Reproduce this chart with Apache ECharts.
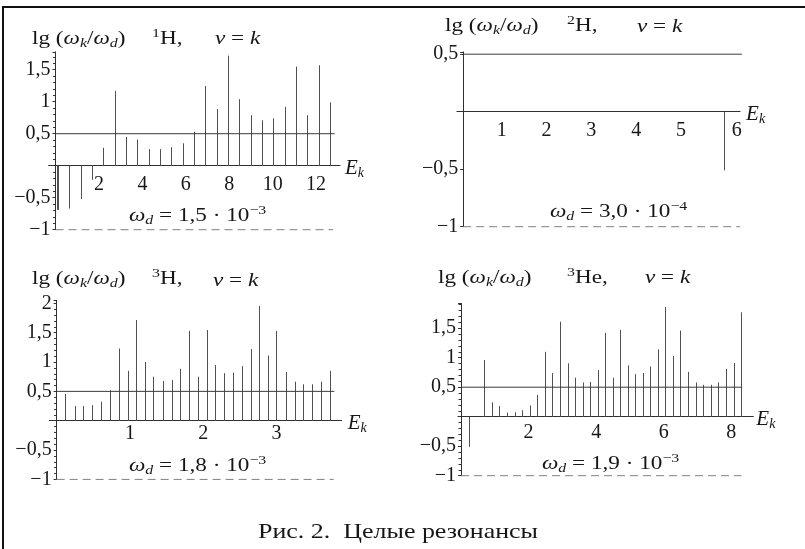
<!DOCTYPE html>
<html><head><meta charset="utf-8">
<script src="https://cdn.jsdelivr.net/npm/echarts@6/dist/echarts.min.js"></script>
<style>html,body{margin:0;padding:0;background:#fff}#c{width:805px;height:549px}</style>
</head><body><div id="c"></div>
<script>
// ---------------- data ----------------
// 1H, nu = k
const h1E = [0.05,0.1,0.63,1.16,1.68,2.2,2.72,3.24,3.75,4.29,4.81,5.33,5.86,6.38,6.9,7.42,7.94,8.47,8.99,9.5,10.02,10.56,11.08,11.6,12.12,12.65];
const h1V = [-0.69,-0.69,-0.67,-0.52,-0.22,0.28,1.17,0.45,0.41,0.26,0.26,0.29,0.35,0.53,1.245,0.885,1.72,1.04,0.79,0.71,0.74,0.92,1.55,0.79,1.57,0.99];
// 2H, nu = k
const h2E = [5.97];
const h2V = [-0.51];
// 3H, nu = k
const h3E = [0.12,0.25,0.36,0.48,0.6,0.73,0.85,0.97,1.08,1.2,1.32,1.45,1.57,1.69,1.81,1.93,2.05,2.16,2.29,2.41,2.53,2.65,2.76,2.89,3.0,3.13,3.25,3.36,3.49,3.61,3.73];
const h3V = [0.455,0.25,0.25,0.265,0.325,0.52,1.23,0.85,1.715,1.0,0.75,0.675,0.69,0.885,1.53,0.75,1.545,0.95,0.81,0.82,0.93,1.22,1.955,1.11,1.53,0.83,0.665,0.62,0.62,0.665,0.85];
// 3He, nu = k
const he3E = [0.24,0.69,0.93,1.13,1.37,1.59,1.80,2.03,2.25,2.49,2.70,2.93,3.16,3.37,3.60,3.82,4.04,4.27,4.49,4.71,4.93,5.16,5.38,5.60,5.83,6.04,6.27,6.49,6.72,6.94,7.16,7.39,7.61,7.84,8.07,8.28];
const he3V = [-0.51,0.96,0.244,0.18,0.07,0.075,0.11,0.19,0.37,1.10,0.74,1.61,0.905,0.66,0.58,0.59,0.79,1.42,0.66,1.47,0.87,0.72,0.74,0.85,1.14,1.86,1.03,1.46,0.76,0.58,0.54,0.54,0.58,0.81,0.91,1.77];

// tick labels
const x1Ticks = [2,4,6,8,10,12];
const x2Ticks = [1,2,3,4,5,6];
const x3Ticks = [1,2,3];
const x4Ticks = [2,4,6,8];
const y1Ticks = [-1,-0.5,0.5,1,1.5];
const y2Ticks = [-1,-0.5,0.5];
const y3Ticks = [-1,-0.5,0.5,1,1.5,2];
const y4Ticks = [-1,-0.5,0.5,1,1.5];

// reference levels and their extents along E
const levelRef = 0.5;
const levelFloor = -1;
const ref1 = [0, 12.85], floor1 = [0, 12.78];
const ref2 = [0.14, 6.36], floor2 = [0.14, 6.32];
const ref3 = [0, 3.79], floor3 = [0, 3.78];
const ref4 = [0, 8.32], floor4 = [0, 8.3];
// E value where the ordinate axis crosses the abscissa
const yAxisAt = [0, 0.14, 0, 0];

// texts
const panelTitles = [['1', 'H,'], ['2', 'H,'], ['3', 'H,'], ['3', 'He,']];
const omegaD = [['1,5', '−3'], ['3,0', '−4'], ['1,8', '−3'], ['1,9', '−3']];
const caption = 'Рис. 2.  Целые резонансы';

// ---------------- chart ----------------
const SERIF = '"Liberation Serif", serif';
const INK = '#161616';
const TSCALE = 1.22;
const LABEL_SIZE = 20;
const chart = echarts.init(document.getElementById('c'));

const layouts = [
  {grid:{left:48.6, top:51.8, width:291.4, height:177.9}, x:[-0.32,13.1], y:[-1,1.78], lm:9, minor:true, gap:5},
  {grid:{left:456.9, top:51.9, width:283.2, height:174.8}, x:[0,6.32], y:[-1,0.52], lm:9, minor:false, gap:6},
  {grid:{left:49.3, top:300.4, width:292.4, height:179.0}, x:[-0.1,3.89], y:[-1,2.05], lm:3, minor:true, gap:6},
  {grid:{left:458, top:303.4, width:295.3, height:172.3}, x:[-0.09,8.65], y:[-1,1.92], lm:6, minor:true, gap:3}
];
const stemsData = [[h1E,h1V],[h2E,h2V],[h3E,h3V],[he3E,he3V]];
const xTicks = [x1Ticks,x2Ticks,x3Ticks,x4Ticks];
const yTicks = [y1Ticks,y2Ticks,y3Ticks,y4Ticks];
const refs = [ref1,ref2,ref3,ref4];
const floors = [floor1,floor2,floor3,floor4];

function numFmt(v){ return String(v).replace('-', '−').replace('.', ','); }

function stems(params, api){
  const x = api.value(0), v = api.value(1);
  const a = api.coord([x, 0]), b = api.coord([x, v]);
  const px = Math.round(a[0]) + 0.5;
  return {type:'line', shape:{x1:px, y1:a[1], x2:px, y2:b[1]}, style:{stroke:'#505050', lineWidth:1}};
}

const grids = [], xAxes = [], yAxes = [], series = [];
layouts.forEach((L, i) => {
  grids.push(Object.assign({containLabel:false, outerBoundsMode:'none'}, L.grid));
  const xt = xTicks[i], yt = yTicks[i];
  const zeroUp = L.grid.height * (0 - L.y[0]) / (L.y[1] - L.y[0]);
  const crossRight = L.grid.width * (yAxisAt[i] - L.x[0]) / (L.x[1] - L.x[0]);
  xAxes.push({
    type:'value', gridIndex:i, min:L.x[0], max:L.x[1], position:'bottom', offset:-zeroUp,
    axisLine:{onZero:false, lineStyle:{color:'#303030', width:1}},
    axisTick:{show:false}, splitLine:{show:false},
    axisLabel:{
      customValues: xt, margin:L.lm, color:INK, fontFamily:SERIF, fontSize:LABEL_SIZE,
      formatter: v => {
        if (!xt.includes(v)) return '';
        if (i === 1 && v === 6) return '{r|6}';
        return String(v);
      },
      rich:{r:{fontFamily:SERIF, fontSize:LABEL_SIZE, color:INK, padding:[0,0,0,22]}}
    },
    name:'{e|E}{k|k}', nameLocation:'end', nameGap:L.gap,
    nameTextStyle:{padding:[5,0,0,0], rich:{
      e:{fontFamily:SERIF, fontStyle:'italic', fontSize:21, lineHeight:24, color:INK},
      k:{fontFamily:SERIF, fontStyle:'italic', fontSize:14, lineHeight:14, padding:[10,0,0,0], color:INK}
    }}
  });
  yAxes.push({
    type:'value', gridIndex:i, min:L.y[0], max:L.y[1], interval:0.5, position:'left', offset:-crossRight,
    axisLine:{show:true, onZero:false, lineStyle:{color:'#303030', width:1}},
    axisTick:{show:true, length:3, lineStyle:{color:'#303030'}},
    minorTick:{show:L.minor, splitNumber:5, length:2.5, lineStyle:{color:'#303030'}},
    splitLine:{show:false},
    axisLabel:{
      margin:5, color:INK, fontFamily:SERIF, fontSize:LABEL_SIZE,
      formatter: v => {
        const r = Math.round(v*100)/100;
        return yt.includes(r) ? numFmt(r) : '';
      }
    }
  });
  const sd = stemsData[i];
  series.push({
    type:'custom', xAxisIndex:i, yAxisIndex:i, renderItem:stems, clip:false, silent:true,
    encode:{x:0, y:1},
    data: sd[0].map((e, k) => [e, sd[1][k]])
  });
  series.push({
    type:'line', xAxisIndex:i, yAxisIndex:i, symbol:'none', silent:true, clip:false,
    lineStyle:{color:'#3a3a3a', width:1},
    data: refs[i].map(e => [e, levelRef])
  });
  series.push({
    type:'line', xAxisIndex:i, yAxisIndex:i, symbol:'none', silent:true, clip:false,
    lineStyle:{color:'#808080', width:1, type:[8,5]},
    data: floors[i].map(e => [e, levelFloor])
  });
});

const richT = {
  n:{fontFamily:SERIF, fontSize:19, lineHeight:24, fill:INK},
  i:{fontFamily:SERIF, fontStyle:'italic', fontSize:19, lineHeight:24, fill:INK},
  s:{fontFamily:SERIF, fontStyle:'italic', fontSize:13, lineHeight:14, padding:[10,0,0,0], fill:INK},
  p:{fontFamily:SERIF, fontSize:13, lineHeight:14, padding:[0,0,10,0], fill:INK}
};
function txt(x, y, text){
  return {type:'text', x:x, y:y, scaleX:TSCALE, silent:true,
    style:{text:text, rich:richT, x:0, y:0, align:'left', verticalAlign:'middle', fill:INK,
      font:'19px ' + SERIF}};
}
const lgText = '{n|lg (}{i|ω}{s|k}{n|/}{i|ω}{s|d}{n|)}';
const nuText = '{i|ν}{n| = }{i|k}';
const titlePos = [
  [[32,39],[152,39],[215,39]],
  [[445,26],[567,26],[637,27]],
  [[32,279],[152,279],[213,281]],
  [[438,278],[567,278],[645,278]]
];
const omegaPos = [[129,216],[550,212],[129,466],[542,464]];
const graphics = [];
titlePos.forEach((tp, i) => {
  graphics.push(txt(tp[0][0], tp[0][1], lgText));
  graphics.push(txt(tp[1][0], tp[1][1], '{p|' + panelTitles[i][0] + '}{n|' + panelTitles[i][1] + '}'));
  graphics.push(txt(tp[2][0], tp[2][1], nuText));
  graphics.push(txt(omegaPos[i][0], omegaPos[i][1],
    '{i|ω}{s|d}{n| = ' + omegaD[i][0] + ' · 10}{p|' + omegaD[i][1] + '}'));
});
const ctx = document.createElement('canvas').getContext('2d');
ctx.font = '22px ' + SERIF;
const capScale = 280 / ctx.measureText(caption).width;
graphics.push({type:'text', x:258, y:532, scaleX:capScale, silent:true,
  style:{text:caption, x:0, y:0, align:'left', verticalAlign:'middle', fill:INK, font:'22px ' + SERIF}});
graphics.push({type:'line', silent:true, shape:{x1:2, y1:7, x2:805, y2:7}, style:{stroke:'#111', lineWidth:2}});
graphics.push({type:'line', silent:true, shape:{x1:3, y1:6, x2:3, y2:549}, style:{stroke:'#111', lineWidth:2}});

chart.setOption({
  animation:false,
  backgroundColor:'#fff',
  grid:grids, xAxis:xAxes, yAxis:yAxes, series:series,
  graphic:graphics
});
</script></body></html>
